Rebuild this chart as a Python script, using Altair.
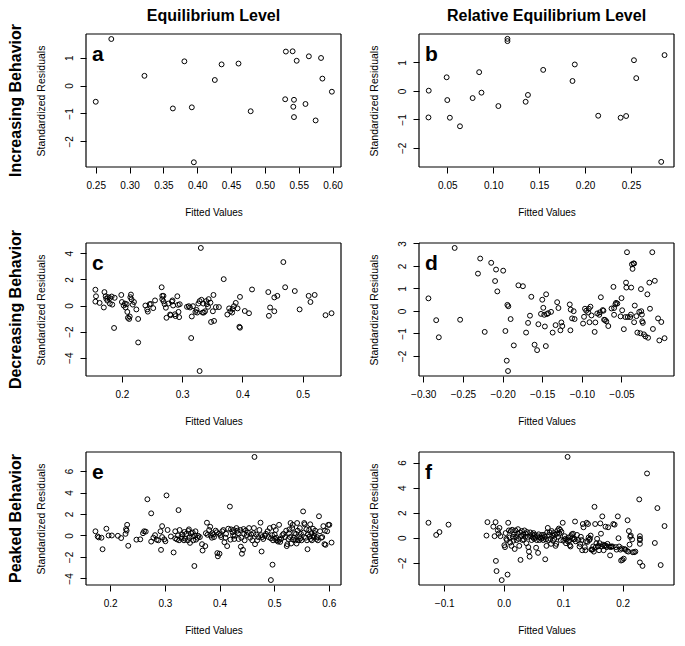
import altair as alt
import pandas as pd

FONT = "Liberation Sans"
W, H = 255, 133

col_titles = ["Equilibrium Level", "Relative Equilibrium Level"]
row_titles = ["Increasing Behavior", "Decreasing Behavior", "Peaked Behavior"]
x_title = "Fitted Values"
y_title = "Standardized Residuals"

# ---- panel a ----
a_x = [0.250, 0.273, 0.322, 0.364, 0.381, 0.392, 0.395, 0.426, 0.436, 0.461, 0.479, 0.530,
       0.531, 0.541, 0.543, 0.542, 0.543, 0.547, 0.560, 0.565, 0.575, 0.583, 0.585, 0.599]
a_y = [-0.58, 1.67, 0.35, -0.82, 0.87, -0.78, -2.75, 0.20, 0.76, 0.79, -0.92, -0.49,
       1.22, 1.23, -0.51, -0.76, -1.13, 0.89, -0.66, 1.05, -1.25, 0.99, 0.25, -0.22]
a_xticks = [0.25, 0.30, 0.35, 0.40, 0.45, 0.50, 0.55, 0.60]
a_yticks = [-2, -1, 0, 1]

# ---- panel b ----
b_x = [0.0295, 0.0298, 0.0493, 0.0500, 0.0528, 0.0638, 0.0776, 0.0847, 0.0872, 0.1056, 0.1155, 0.1155,
       0.1353, 0.1378, 0.1544, 0.1863, 0.1888, 0.2143, 0.2387, 0.2447, 0.2532, 0.2557, 0.2829, 0.2865]
b_y = [-0.93, 0.01, 0.48, -0.32, -0.94, -1.24, -0.25, 0.66, -0.06, -0.53, 1.83, 1.75,
       -0.38, -0.14, 0.74, 0.35, 0.93, -0.87, -0.94, -0.88, 1.08, 0.45, -2.49, 1.26]
b_xticks = [0.05, 0.10, 0.15, 0.20, 0.25]
b_yticks = [-2, -1, 0, 1]

# ---- panel c ----
c_x = [0.156, 0.157, 0.156, 0.163, 0.171, 0.170, 0.173, 0.174, 0.176, 0.177,
       0.180, 0.183, 0.180, 0.184, 0.188, 0.187, 0.199, 0.200, 0.203, 0.205,
       0.206, 0.209, 0.208, 0.210, 0.212, 0.213, 0.215, 0.214, 0.216, 0.218,
       0.220, 0.224, 0.227, 0.227,
       0.239, 0.242, 0.243, 0.246, 0.248, 0.252, 0.255,
       0.266, 0.267, 0.269, 0.267, 0.269, 0.271, 0.273, 0.274, 0.277,
       0.280, 0.281, 0.283, 0.284, 0.285, 0.288, 0.289,
       0.292, 0.293, 0.294, 0.295, 0.296,
       0.308, 0.311, 0.313, 0.316, 0.318, 0.322, 0.324, 0.325, 0.327, 0.329,
       0.331, 0.332, 0.334, 0.335, 0.336, 0.338, 0.340, 0.341, 0.343, 0.344,
       0.347, 0.348, 0.351, 0.352, 0.353, 0.356, 0.361, 0.315, 0.329,
       0.369, 0.375, 0.378, 0.380, 0.383, 0.384, 0.386, 0.389, 0.392, 0.395, 0.396, 0.396, 0.404, 0.411, 0.416,
       0.443, 0.444, 0.446, 0.453, 0.453, 0.458, 0.468, 0.471, 0.487, 0.495, 0.510, 0.513, 0.520, 0.538, 0.548]
c_y = [1.21, 0.71, 0.30, 0.20, 1.03, -0.15, 0.71, 0.52, 0.37, 0.64,
       0.57, 0.69, 0.15, 0.07, 0.59, -1.72, 0.81, 0.27, 0.00, 0.15,
       -0.15, -0.49, 0.10, -0.94, -1.03, -0.84, 0.84, 0.64, 0.47, 0.07,
       0.27, -0.30, -1.03, -2.83,
       0.00, -0.30, -0.47, 0.10, 0.12, -0.20, 0.39,
       1.40, 0.74, 0.74, 0.49, 0.32, 0.10, -0.17, -0.94, 0.15,
       -0.69, -0.74, 0.30, 0.39, 0.00, -0.67, -0.81,
       0.71, 0.05, -0.49, -0.89, 0.10,
       -0.10, -0.05, -0.15, -0.84, -0.05, -0.49, -0.34, -0.54, 0.15, 0.34,
       4.41, 0.44, -0.54, 0.15, -0.54, -0.44, 0.34, 0.10, -0.10, 0.49,
       0.22, -1.26, -0.44, 0.81, -1.18, -0.12, -0.12, -2.49, -5.02,
       2.02, -0.69, -0.22, -0.44, -0.54, -0.27, -0.05, 0.20, -0.22, -1.63, -1.70, 0.66, -0.42, -0.59, 1.23,
       1.03, -0.79, -0.15, -0.44, 0.62, 0.74, 3.33, 1.40, 1.11, -0.30, 0.74, 0.27, 0.81, -0.74, -0.59]
c_xticks = [0.2, 0.3, 0.4, 0.5]
c_yticks = [-4, -2, 0, 2, 4]

# ---- panel d ----
d_x = [-0.2935, -0.2837, -0.2804, -0.2604, -0.2535, -0.2310, -0.2282, -0.2225, -0.2143, -0.2094,
       -0.2082, -0.2066, -0.1992, -0.1964, -0.1939, -0.1927, -0.1947, -0.1931, -0.1898, -0.1858,
       -0.1800, -0.1743, -0.1703, -0.1678, -0.1654, -0.1637, -0.1596, -0.1564, -0.1548, -0.1515,
       -0.1499, -0.1486, -0.1474, -0.1466, -0.1450, -0.1454, -0.1441, -0.1425, -0.1388, -0.1368,
       -0.1331, -0.1311, -0.1295, -0.1270, -0.1258, -0.1246, -0.1152, -0.1140, -0.1144, -0.1123,
       -0.1103, -0.1091, -0.0984, -0.0972, -0.0960, -0.0944, -0.0919, -0.0911, -0.0903, -0.0891,
       -0.0878, -0.0838, -0.0829, -0.0805, -0.0780, -0.0772, -0.0760, -0.0736, -0.0727, -0.0719,
       -0.0707, -0.0691, -0.0666, -0.0625, -0.0601, -0.0593, -0.0593, -0.0576, -0.0568, -0.0552,
       -0.0511, -0.0499, -0.0491, -0.0470, -0.0450, -0.0442, -0.0430, -0.0438, -0.0421, -0.0389,
       -0.0381, -0.0377, -0.0368, -0.0360, -0.0348, -0.0340, -0.0340, -0.0332, -0.0311, -0.0299,
       -0.0275, -0.0262, -0.0254, -0.0250, -0.0242, -0.0238, -0.0230, -0.0217, -0.0197, -0.0164,
       -0.0173, -0.0148, -0.0140, -0.0111, -0.0103, -0.0079, -0.0038, -0.0022, 0.0003, 0.0044]
d_y = [0.56, -0.41, -1.17, 2.80, -0.39, 1.66, 2.33, -0.93, 2.14, 1.33,
       1.84, 0.87, 1.79, -0.89, 0.27, 0.21, -2.21, -2.67, -0.36, -1.53,
       1.14, 1.10, -0.96, -0.53, -0.21, 0.63, -1.50, -1.74, -0.59, -0.13,
       0.50, 0.14, -0.17, -0.69, 0.74, -1.56, -0.14, -0.10, -0.04, -0.96,
       -0.63, 0.39, 0.13, -0.86, -0.51, -0.67, 0.29, 0.06, -0.86, -0.33,
       -0.01, -0.36, -0.56, -0.26, 0.10, 0.01, -0.07, 0.10, -0.50, 0.19,
       -0.20, -0.93, -0.51, -0.11, -0.17, -0.06, 0.61, 0.04, 0.01, -0.39,
       -0.40, -0.46, -0.67, 0.11, 1.07, -0.17, 0.13, 0.30, 0.36, 0.33,
       -0.24, 0.57, 0.03, -0.81, -0.27, 1.26, 2.61, 1.04, -0.27, -0.27,
       -0.16, 1.04, 2.07, 1.87, 2.11, 2.11, -0.50, 0.24, -0.23, -0.96,
       -0.04, -0.99, 0.97, -0.01, -0.16, -0.46, -0.53, -1.04, -1.13, -1.19,
       0.74, 1.26, 0.10, 2.61, -0.80, 1.34, -0.33, -1.31, -0.49, -1.21]
d_xticks = [-0.30, -0.25, -0.20, -0.15, -0.10, -0.05]
d_yticks = [-2, -1, 0, 1, 2, 3]

# ---- panel e ----
e_x = [0.173, 0.177, 0.179, 0.184, 0.186, 0.193, 0.197, 0.203, 0.214, 0.220,
       0.228, 0.229, 0.230, 0.231, 0.233, 0.248, 0.255, 0.260, 0.262, 0.265,
       0.268, 0.275, 0.275, 0.279, 0.282, 0.285, 0.288, 0.292, 0.293, 0.295,
       0.295, 0.299, 0.301, 0.303, 0.305, 0.311, 0.316, 0.319, 0.319, 0.322,
       0.325, 0.324, 0.326, 0.327, 0.330, 0.331, 0.332, 0.335, 0.336, 0.337,
       0.339, 0.342, 0.343, 0.344, 0.345, 0.346, 0.348, 0.350, 0.351, 0.352,
       0.354, 0.355, 0.356, 0.357, 0.360, 0.361, 0.364, 0.368, 0.369, 0.374,
       0.375, 0.377, 0.378, 0.381, 0.383, 0.384, 0.386, 0.387, 0.389, 0.390,
       0.393, 0.395, 0.396, 0.397, 0.399, 0.400, 0.402, 0.403, 0.405, 0.407,
       0.409, 0.411, 0.412, 0.414, 0.416, 0.419, 0.420, 0.421, 0.424, 0.425,
       0.426, 0.427, 0.428, 0.431, 0.433, 0.434, 0.435, 0.438, 0.439, 0.440,
       0.441, 0.443, 0.444, 0.445, 0.446, 0.448, 0.450, 0.452, 0.454, 0.456,
       0.458, 0.460, 0.462, 0.463, 0.464, 0.465, 0.467, 0.469, 0.471, 0.473,
       0.475, 0.476, 0.477, 0.478, 0.480, 0.483, 0.485, 0.488, 0.490, 0.492,
       0.494, 0.496, 0.497, 0.494, 0.498, 0.499, 0.501, 0.502, 0.503, 0.504,
       0.505, 0.507, 0.509, 0.510, 0.511, 0.513, 0.515, 0.517, 0.520, 0.522,
       0.523, 0.524, 0.526, 0.527, 0.528, 0.529, 0.530, 0.531, 0.533, 0.534,
       0.535, 0.536, 0.537, 0.539, 0.540, 0.541, 0.542, 0.543, 0.545, 0.546,
       0.547, 0.548, 0.549, 0.550, 0.553, 0.554, 0.555, 0.556, 0.558, 0.559,
       0.560, 0.561, 0.562, 0.564, 0.565, 0.566, 0.567, 0.568, 0.569, 0.571,
       0.572, 0.573, 0.574, 0.575, 0.577, 0.578, 0.580, 0.582, 0.584, 0.586,
       0.588, 0.590, 0.592, 0.593, 0.594, 0.597, 0.599, 0.601, 0.605]
e_y = [0.39, -0.09, -0.18, -0.21, -1.28, 0.63, 0.00, 0.00, -0.03, -0.24,
       0.15, 0.60, 0.45, 0.99, -0.96, -0.39, -0.36, 0.21, 0.39, 0.36,
       3.37, 2.06, -0.57, -0.21, 0.03, -0.39, -0.45, 0.39, -1.34, 0.87,
       -0.15, -0.36, -0.54, 3.73, 0.51, -0.09, -1.58, 0.39, -0.27, -0.36,
       2.36, 0.00, -0.45, 0.51, -0.15, -0.30, 0.09, -0.45, 0.33, -0.30,
       0.15, -0.45, 0.42, 0.57, -0.21, -0.69, 0.21, -0.09, 0.27, -0.45,
       -2.84, 0.00, 0.39, -0.39, -0.21, -0.03, -0.15, -0.81, -1.40, -0.99,
       0.21, 1.19, 0.06, 0.51, 0.81, 0.00, -0.21, 0.21, 0.09, -0.15,
       0.45, 0.30, -1.64, -1.94, 0.15, -1.70, 0.03, -0.15, 0.39, 0.51,
       -0.63, -0.21, 0.15, -0.99, 0.63, 2.69, -0.39, 0.57, 0.30, 0.00,
       0.51, -0.33, -0.03, 0.69, 0.45, 0.21, -0.33, 0.51, -1.04, -0.21,
       -1.70, -1.34, 0.60, 0.15, -0.45, 0.45, 0.03, 0.27, 0.69, -0.21,
       0.09, -0.45, 0.21, 0.69, 7.31, -0.81, 0.09, -0.45, -0.15, 0.51,
       1.19, 0.03, -1.49, -0.15, -0.33, -0.03, 0.15, 0.39, -0.15, 0.69,
       -0.27, 0.03, -2.72, -4.15, -0.45, 0.81, 0.09, -0.33, 0.51, -0.21,
       -0.45, -0.57, 0.99, -0.39, -0.60, -0.30, 0.03, 0.15, -0.15, 0.45,
       -0.99, -0.81, -0.33, 0.21, 0.57, -0.15, 1.16, -0.75, 0.69, 0.99,
       -0.39, -0.21, 0.21, -0.45, 0.15, -0.75, 1.16, 0.45, -0.45, -0.09,
       0.69, -0.27, 0.15, -0.45, 2.24, 0.27, 1.16, 1.04, -0.21, 0.57,
       -0.45, -1.28, 0.09, 0.51, -0.09, 1.04, -0.33, 0.21, -0.45, 0.63,
       -0.15, -0.03, 0.21, 0.45, -0.33, -0.15, -0.45, 1.79, 0.39, -0.21,
       -0.15, 0.87, -0.81, 0.45, -0.87, 0.39, 0.99, 0.99, -0.66]
e_xticks = [0.2, 0.3, 0.4, 0.5, 0.6]
e_yticks = [-4, -2, 0, 2, 4, 6]

# ---- panel f ----
f_x = [-0.1264, -0.1134, -0.1079, -0.0927, -0.0289, -0.0273, -0.0174, -0.0136, -0.0153, -0.0131,
       -0.0120, -0.0098, -0.0087, -0.0071, -0.0055, -0.0033, 0.0011, 0.0022, 0.0033, 0.0044,
       0.0054, 0.0065, 0.0076, 0.0087, 0.0098, 0.0109, 0.0120, 0.0131, 0.0142, 0.0153,
       0.0164, 0.0174, 0.0185, 0.0196, 0.0207, 0.0218, 0.0229, 0.0240, 0.0251, 0.0262,
       0.0273, 0.0283, 0.0294, 0.0305, 0.0316, 0.0327, 0.0338, 0.0349, 0.0360, 0.0371,
       0.0382, 0.0392, 0.0403, 0.0414, 0.0425, 0.0436, 0.0447, 0.0458, 0.0469, 0.0480,
       0.0491, 0.0501, 0.0512, 0.0523, 0.0534, 0.0545, 0.0556, 0.0567, 0.0578, 0.0589,
       0.0600, 0.0610, 0.0632, 0.0643, 0.0654, 0.0665, 0.0676, 0.0687, 0.0698, 0.0709,
       0.0719, 0.0730, 0.0741, 0.0752, 0.0763, 0.0774, 0.0785, 0.0796, 0.0807, 0.0818,
       0.0828, 0.0839, 0.0850, 0.0861, 0.0872, 0.0883, 0.0894, 0.0905, 0.0916, 0.0927,
       0.0937, 0.0948, 0.0959, 0.0970, 0.0992, 0.1003, 0.1025, 0.1036, 0.1046, 0.1057,
       0.1074, 0.1079, 0.1090, 0.1101, 0.1112, 0.1123, 0.1134, 0.1145, 0.1155, 0.1166,
       0.1177, 0.1188, 0.1199, 0.1210, 0.1232, 0.1254, 0.1275, 0.1286, 0.1297, 0.1308,
       0.1319, 0.1330, 0.1341, 0.1363, 0.1373, 0.1384, 0.1395, 0.1406, 0.1417, 0.1428,
       0.1439, 0.1450, 0.1461, 0.1472, 0.1482, 0.1493, 0.1504, 0.1515, 0.1526, 0.1537,
       0.1548, 0.1559, 0.1570, 0.1581, 0.1591, 0.1602, 0.1613, 0.1624, 0.1635, 0.1646,
       0.1657, 0.1668, 0.1679, 0.1690, 0.1700, 0.1711, 0.1722, 0.1733, 0.1744, 0.1755,
       0.1777, 0.1788, 0.1799, 0.1809, 0.1831, 0.1842, 0.1864, 0.1886, 0.1897, 0.1918,
       0.1929, 0.1940, 0.1962, 0.1973, 0.1984, 0.1995, 0.2017, 0.2027, 0.2049, 0.2071,
       0.2082, 0.2093, 0.2104, 0.2115, 0.2126, 0.2136, 0.2158, 0.2169, 0.2191, 0.2213,
       0.2278, 0.2289, 0.2289, 0.2289, 0.2289, 0.2289, 0.2333, 0.2409, 0.2540, 0.2583,
       0.2638, 0.2703]
f_y = [1.20, 0.23, 0.46, 1.05, 0.18, 1.25, 0.89, 1.25, 0.13, -1.84,
       -2.65, 0.59, 0.33, 0.79, 0.13, -3.37, -0.59, -0.74, 0.38, -0.08,
       -0.18, -2.93, 1.20, 0.59, 0.03, -0.38, 0.54, -0.64, 0.64, 0.08,
       -0.23, 0.28, -0.89, 0.59, 0.08, -0.18, 0.33, 0.69, -0.08, -0.64,
       0.43, -1.76, 0.13, 0.54, -0.18, 0.28, -0.13, 0.59, 0.08, 0.33,
       -0.43, 0.46, 0.08, -0.74, -1.10, -1.50, 0.43, 0.13, -0.18, 0.28,
       0.03, 0.38, -0.08, 0.23, 0.03, -0.79, -0.18, 0.13, -1.20, 0.28,
       -0.18, 0.03, -0.08, 0.23, 0.03, -0.18, 0.23, 0.08, -1.71, -0.13,
       -0.64, 0.43, 0.79, -0.18, 0.23, 0.43, -0.08, -0.48, 0.54, 0.18,
       -0.23, 0.38, -0.08, 0.23, -0.64, -0.48, 0.33, 0.59, 0.08, 0.74,
       0.33, 0.64, -0.18, 0.48, 1.20, -0.23, 0.13, -0.08, -0.43, -0.13,
       6.45, -0.28, 0.03, -0.23, -0.59, -0.69, 0.13, 0.28, -0.03, 0.33,
       -0.13, -0.08, 1.30, -0.28, 0.23, -0.18, -0.69, -0.48, 0.08, -0.18,
       -0.99, 1.10, 0.84, -0.74, -0.99, -0.28, 1.20, -0.33, 1.10, 0.03,
       -0.18, -0.08, 0.18, -0.94, -0.94, -0.94, -0.69, -1.10, 2.47, 1.10,
       -0.74, -0.43, -0.08, -0.69, -0.64, -0.99, -0.43, 1.15, 0.33, -0.69,
       1.71, -0.54, -0.99, -0.64, -0.59, 0.89, -0.64, -0.74, -0.48, 0.84,
       -0.69, -1.40, -0.74, -0.69, -0.69, 1.10, 1.05, -0.74, -0.94, 1.71,
       -0.03, -0.69, -0.94, -1.81, -0.84, -1.76, -1.66, -0.89, -0.94, -1.05,
       1.40, -1.10, 0.54, -0.54, 0.08, 0.18, -0.13, -1.15, -1.15, -1.10,
       3.06, 0.13, -0.08, -0.18, -0.48, -1.96, -2.24, 5.13, -0.41, 2.37,
       -2.17, 0.94]
f_xticks = [-0.1, 0.0, 0.1, 0.2]
f_yticks = [-2, 0, 2, 4, 6]

# plot extents (R's 4% padding around data)
domains = {
    "a": ([0.2356, 0.6125], [-2.92, 1.85]),
    "b": ([0.0192, 0.2968], [-2.67, 2.00]),
    "c": ([0.1404, 0.5637], [-5.40, 4.79]),
    "d": ([-0.3054, 0.0163], [-2.89, 3.02]),
    "e": ([0.1557, 0.6223], [-4.61, 7.77]),
    "f": ([-0.1423, 0.2862], [-3.76, 6.84]),
}


def panel(letter, xs, ys, xticks, yticks, xfmt, col_title=None, row_title=None):
    xdom, ydom = domains[letter]
    xmin, xmax = xdom
    ymin, ymax = ydom
    xsc = alt.Scale(domain=xdom, zero=False, nice=False)
    ysc = alt.Scale(domain=ydom, zero=False, nice=False)
    common = dict(grid=False, domain=False,
                  tickColor="black", tickSize=6, tickWidth=1,
                  labelFont=FONT, labelFontSize=10, labelColor="black",
                  labelFlush=False, labelOverlap=False,
                  titleFont=FONT, titleFontWeight="normal", titleColor="black",
                  titleBaseline="middle", titleAlign="center")
    xaxis = alt.Axis(values=xticks, format=xfmt, title=x_title, labelPadding=7,
                     titleFontSize=10, titleX=W / 2, titleY=45, **common)
    yaxis = alt.Axis(values=yticks, format="d", title=y_title,
                     labelAngle=270, labelAlign="center", labelBaseline="bottom",
                     labelPadding=6, titleFontSize=10.5, titleAngle=270,
                     titleX=-45, titleY=H / 2, **common)

    df = pd.DataFrame({"x": xs, "y": ys})
    pts = alt.Chart(df).mark_point(
        shape="circle", filled=False, color="black", size=24, strokeWidth=1, opacity=1
    ).encode(
        x=alt.X("x:Q", scale=xsc, axis=xaxis, title=x_title),
        y=alt.Y("y:Q", scale=ysc, axis=yaxis, title=y_title),
    )
    # plot box drawn along the scale extents
    hbox = pd.DataFrame({"x": [xmin, xmin], "x2": [xmax, xmax], "y": [ymin, ymax]})
    vbox = pd.DataFrame({"x": [xmin, xmax], "y": [ymin, ymin], "y2": [ymax, ymax]})
    hrules = alt.Chart(hbox).mark_rule(color="black", strokeWidth=1.2, opacity=1).encode(
        x=alt.X("x:Q", scale=xsc, axis=xaxis, title=x_title), x2="x2:Q",
        y=alt.Y("y:Q", scale=ysc, axis=yaxis, title=y_title),
    )
    vrules = alt.Chart(vbox).mark_rule(color="black", strokeWidth=1.2, opacity=1).encode(
        x=alt.X("x:Q", scale=xsc, axis=xaxis, title=x_title),
        y=alt.Y("y:Q", scale=ysc, axis=yaxis, title=y_title), y2="y2:Q",
    )
    layers = [hrules, vrules, pts]
    lab = alt.Chart(pd.DataFrame({"t": [letter]})).mark_text(
        align="left", baseline="alphabetic", fontSize=21, fontWeight="bold", font=FONT, color="black"
    ).encode(x=alt.value(6), y=alt.value(27), text="t:N")
    layers.append(lab)
    if col_title:
        ct = alt.Chart(pd.DataFrame({"t": [col_title]})).mark_text(
            align="center", baseline="alphabetic", fontSize=16, fontWeight="bold", font=FONT, color="black"
        ).encode(x=alt.value(W / 2), y=alt.value(-13), text="t:N")
        layers.append(ct)
    if row_title:
        rt = alt.Chart(pd.DataFrame({"t": [row_title]})).mark_text(
            align="center", baseline="middle", angle=270, fontSize=16, fontWeight="bold",
            font=FONT, color="black"
        ).encode(x=alt.value(-70), y=alt.value(H / 2), text="t:N")
        layers.append(rt)
    return alt.layer(*layers).properties(width=W, height=H)


panels = [
    panel("a", a_x, a_y, a_xticks, a_yticks, ".2f", col_title=col_titles[0], row_title=row_titles[0]),
    panel("b", b_x, b_y, b_xticks, b_yticks, ".2f", col_title=col_titles[1]),
    panel("c", c_x, c_y, c_xticks, c_yticks, ".1f", row_title=row_titles[1]),
    panel("d", d_x, d_y, d_xticks, d_yticks, ".2f"),
    panel("e", e_x, e_y, e_xticks, e_yticks, ".1f", row_title=row_titles[2]),
    panel("f", f_x, f_y, f_xticks, f_yticks, ".1f"),
]

chart = alt.concat(*panels, columns=2, spacing={"row": 76, "column": 78}, bounds="flush").properties(
    padding=0
).configure_view(stroke=None)

chart.save("out.html", embed_options={"renderer": "svg", "actions": False})
